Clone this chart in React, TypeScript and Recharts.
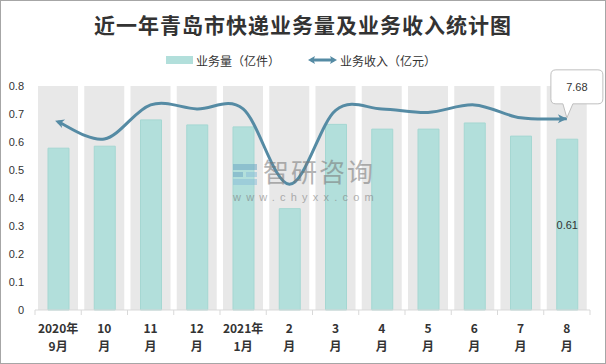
import React from "react";
import { ComposedChart, Bar, Line, XAxis, YAxis, CartesianGrid, LabelList } from "recharts";

const categories = ["2020年9月", "10月", "11月", "12月", "2021年1月", "2月", "3月", "4月", "5月", "6月", "7月", "8月"];
const tickTop = ["2020年", "10", "11", "12", "2021年", "2", "3", "4", "5", "6", "7", "8"];
const tickBottom = ["9月", "月", "月", "月", "1月", "月", "月", "月", "月", "月", "月", "月"];
// 业务量（亿件）
const volume = [0.578, 0.585, 0.679, 0.661, 0.654, 0.362, 0.663, 0.646, 0.646, 0.668, 0.621, 0.61];
// 业务收入（亿元）
const revenue = [7.56, 6.87, 8.24, 8.08, 8.08, 5.05, 8.02, 8.08, 7.94, 8.24, 7.72, 7.68];
const yTicks = [0, 0.1, 0.2, 0.3, 0.4, 0.5, 0.6, 0.7, 0.8];

const data = categories.map((name, i) => ({ name, volume: volume[i], revenue: revenue[i] }));
const last = categories.length - 1;

const BAR = "#b2dfdb";
const BAND = "#e8e8e8";
const LINE = "#558ba4";
const TEXT = "#333";
const NUM_FONT = "'Liberation Sans', Arial, sans-serif";
const CJK_FONT = "'Noto Sans CJK SC', sans-serif";

// Excel-like smoothing (catmull-rom through the points)
function smoothCurve(context: any) {
  let pts: number[][] = [];
  return {
    areaStart() {},
    areaEnd() {},
    lineStart() {
      pts = [];
    },
    point(x: number, y: number) {
      pts.push([+x, +y]);
    },
    lineEnd() {
      const n = pts.length;
      if (!n) return;
      context.moveTo(pts[0][0], pts[0][1]);
      for (let i = 0; i < n - 1; i++) {
        const p0 = pts[Math.max(i - 1, 0)];
        const p1 = pts[i];
        const p2 = pts[i + 1];
        const p3 = pts[Math.min(i + 2, n - 1)];
        context.bezierCurveTo(
          p1[0] + (p2[0] - p0[0]) / 6,
          p1[1] + (p2[1] - p0[1]) / 6,
          p2[0] - (p3[0] - p1[0]) / 6,
          p2[1] - (p3[1] - p1[1]) / 6,
          p2[0],
          p2[1]
        );
      }
    },
  };
}

function XTick(props: any) {
  const { x, y, payload } = props;
  const i = payload?.index ?? props.index;
  const half = payload?.offset || 23.1;
  return (
    <g>
      <line x1={x - half} x2={x - half} y1={y} y2={y + 5} stroke="#d9d9d9" />
      {i === last && <line x1={x + half} x2={x + half} y1={y} y2={y + 5} stroke="#d9d9d9" />}
      <text x={x} y={y + 23} textAnchor="middle" fontSize={12} fontWeight="bold" fill={TEXT} fontFamily={CJK_FONT}>
        {tickTop[i]}
      </text>
      <text x={x} y={y + 41} textAnchor="middle" fontSize={12} fontWeight="bold" fill={TEXT} fontFamily={CJK_FONT}>
        {tickBottom[i]}
      </text>
    </g>
  );
}

function arrowDot(props: any) {
  const { cx, cy, index } = props;
  if (index === 0) {
    return (
      <g key={`dot-${index}`}>
        <polygon points="0,0 -9,-4.5 -6.5,0 -9,4.5" fill={LINE} transform={`translate(${cx - 3},${cy - 1.2}) rotate(200)`} />
      </g>
    );
  }
  if (index === last) {
    return (
      <g key={`dot-${index}`}>
        <polygon points="0,0 -9,-4.5 -6.5,0 -9,4.5" fill={LINE} transform={`translate(${cx},${cy})`} />
      </g>
    );
  }
  return <g key={`dot-${index}`} />;
}

function BarValue(props: any) {
  const { x, y, width, height, index, value } = props;
  if (index !== last) return null;
  return (
    <text x={x + width / 2} y={y + height / 2 + 4} textAnchor="middle" fontSize={11} fill={TEXT} fontFamily={NUM_FONT}>
      {value}
    </text>
  );
}

function Callout(props: any) {
  const { index, value } = props;
  if (index !== last) return null;
  const vb = props.viewBox || {};
  const x = props.x ?? vb.x;
  const y = props.y ?? vb.y;
  const l = x - 16;
  const r = x + 36;
  const t = y - 49;
  const b = y - 15;
  const k = 5;
  const d = `M${l + k},${t} H${r - k} Q${r},${t} ${r},${t + k} V${b - k} Q${r},${b} ${r - k},${b} H${x + 6} L${x},${y - 1} L${x - 4},${b} H${l + k} Q${l},${b} ${l},${b - k} V${t + k} Q${l},${t} ${l + k},${t} Z`;
  return (
    <g>
      <path d={d} fill="#fff" stroke="#bfbfbf" strokeWidth={1} />
      <text x={(l + r) / 2} y={t + 21} textAnchor="middle" fontSize={11} fill={TEXT} fontFamily={NUM_FONT}>
        {value}
      </text>
    </g>
  );
}

export default function App() {
  return (
    <div style={{ position: "relative", width: 606, height: 364, background: "#fff", overflow: "hidden" }}>
      <style>{"body{margin:0}"}</style>
      <div
        style={{
          position: "absolute",
          top: 11,
          left: 0,
          width: 606,
          textAlign: "center",
          fontFamily: CJK_FONT,
          fontWeight: "bold",
          fontSize: 21,
          lineHeight: "26px",
          letterSpacing: 1,
          color: TEXT,
        }}
      >
        近一年青岛市快递业务量及业务收入统计图
      </div>
      <div
        style={{
          position: "absolute",
          top: 51,
          left: 166,
          height: 18,
          display: "flex",
          alignItems: "center",
          fontFamily: CJK_FONT,
          fontSize: 12,
          color: TEXT,
        }}
      >
        <span style={{ width: 27, height: 8, background: BAR, marginRight: 3 }} />
        <span>业务量（亿件）</span>
        <svg width={29} height={10} style={{ marginLeft: 28, marginRight: 3 }}>
          <line x1={3} x2={26} y1={5} y2={5} stroke={LINE} strokeWidth={3} />
          <polygon points="0,5 7,1 5.5,5 7,9" fill={LINE} />
          <polygon points="29,5 22,1 23.5,5 22,9" fill={LINE} />
        </svg>
        <span>业务收入（亿元）</span>
      </div>
      <ComposedChart width={606} height={364} data={data} margin={{ top: 86, right: 16, bottom: 4, left: 0 }}>
        <XAxis xAxisId="band" dataKey="name" hide />
        <XAxis
          dataKey="name"
          interval={0}
          height={50}
          tickSize={0}
          tickMargin={0}
          tickLine={false}
          axisLine={{ stroke: "#d9d9d9" }}
          tick={<XTick />}
        />
        <YAxis
          yAxisId="left"
          domain={[0, 0.8]}
          ticks={yTicks}
          width={35}
          axisLine={false}
          tickLine={false}
          tickMargin={5}
          tick={{ fontSize: 11, fill: TEXT, fontFamily: NUM_FONT }}
        />
        <YAxis yAxisId="right" orientation="right" domain={[0, 9]} hide />
        <Bar
          xAxisId="band"
          yAxisId="left"
          dataKey="volume"
          barSize={40}
          fill="none"
          background={{ fill: BAND }}
          isAnimationActive={false}
          zIndex={-150}
        />
        <CartesianGrid yAxisId="left" vertical={false} stroke="#fff" strokeWidth={1.2} />
        <Bar yAxisId="left" dataKey="volume" barSize={21} fill={BAR} stroke="#a5d7d2" strokeWidth={1} isAnimationActive={false}>
          <LabelList dataKey="volume" content={<BarValue />} />
        </Bar>
        <Line
          yAxisId="right"
          dataKey="revenue"
          type={smoothCurve as any}
          stroke={LINE}
          strokeWidth={3}
          dot={arrowDot}
          activeDot={false}
          isAnimationActive={false}
        >
          <LabelList dataKey="revenue" content={<Callout />} />
        </Line>
      </ComposedChart>
      <div style={{ position: "absolute", left: 233, top: 158, pointerEvents: "none", opacity: 0.55 }}>
        <svg width={26} height={24} style={{ position: "absolute", left: 0, top: 6 }}>
          <rect x={0} y={0} width={24} height={6} fill="#6fa7c4" />
          <rect x={0} y={8} width={10} height={5} fill="#6fa7c4" />
          <rect x={13} y={8} width={11} height={5} fill="#8cc0d8" />
          <rect x={0} y={15} width={24} height={6} fill="#8cc0d8" />
        </svg>
        <div
          style={{
            position: "absolute",
            left: 30,
            top: 0,
            whiteSpace: "nowrap",
            fontFamily: CJK_FONT,
            fontSize: 26,
            lineHeight: "26px",
            letterSpacing: 2,
            color: "#777",
          }}
        >
          智研咨询
        </div>
        <div
          style={{
            position: "absolute",
            left: 0,
            top: 33,
            whiteSpace: "nowrap",
            fontFamily: NUM_FONT,
            fontSize: 11,
            lineHeight: "12px",
            letterSpacing: 5.2,
            color: "#777",
          }}
        >
          www.chyxx.com
        </div>
      </div>
      <div style={{ position: "absolute", inset: 0, border: "1px solid #a6a6a6", pointerEvents: "none" }} />
    </div>
  );
}
